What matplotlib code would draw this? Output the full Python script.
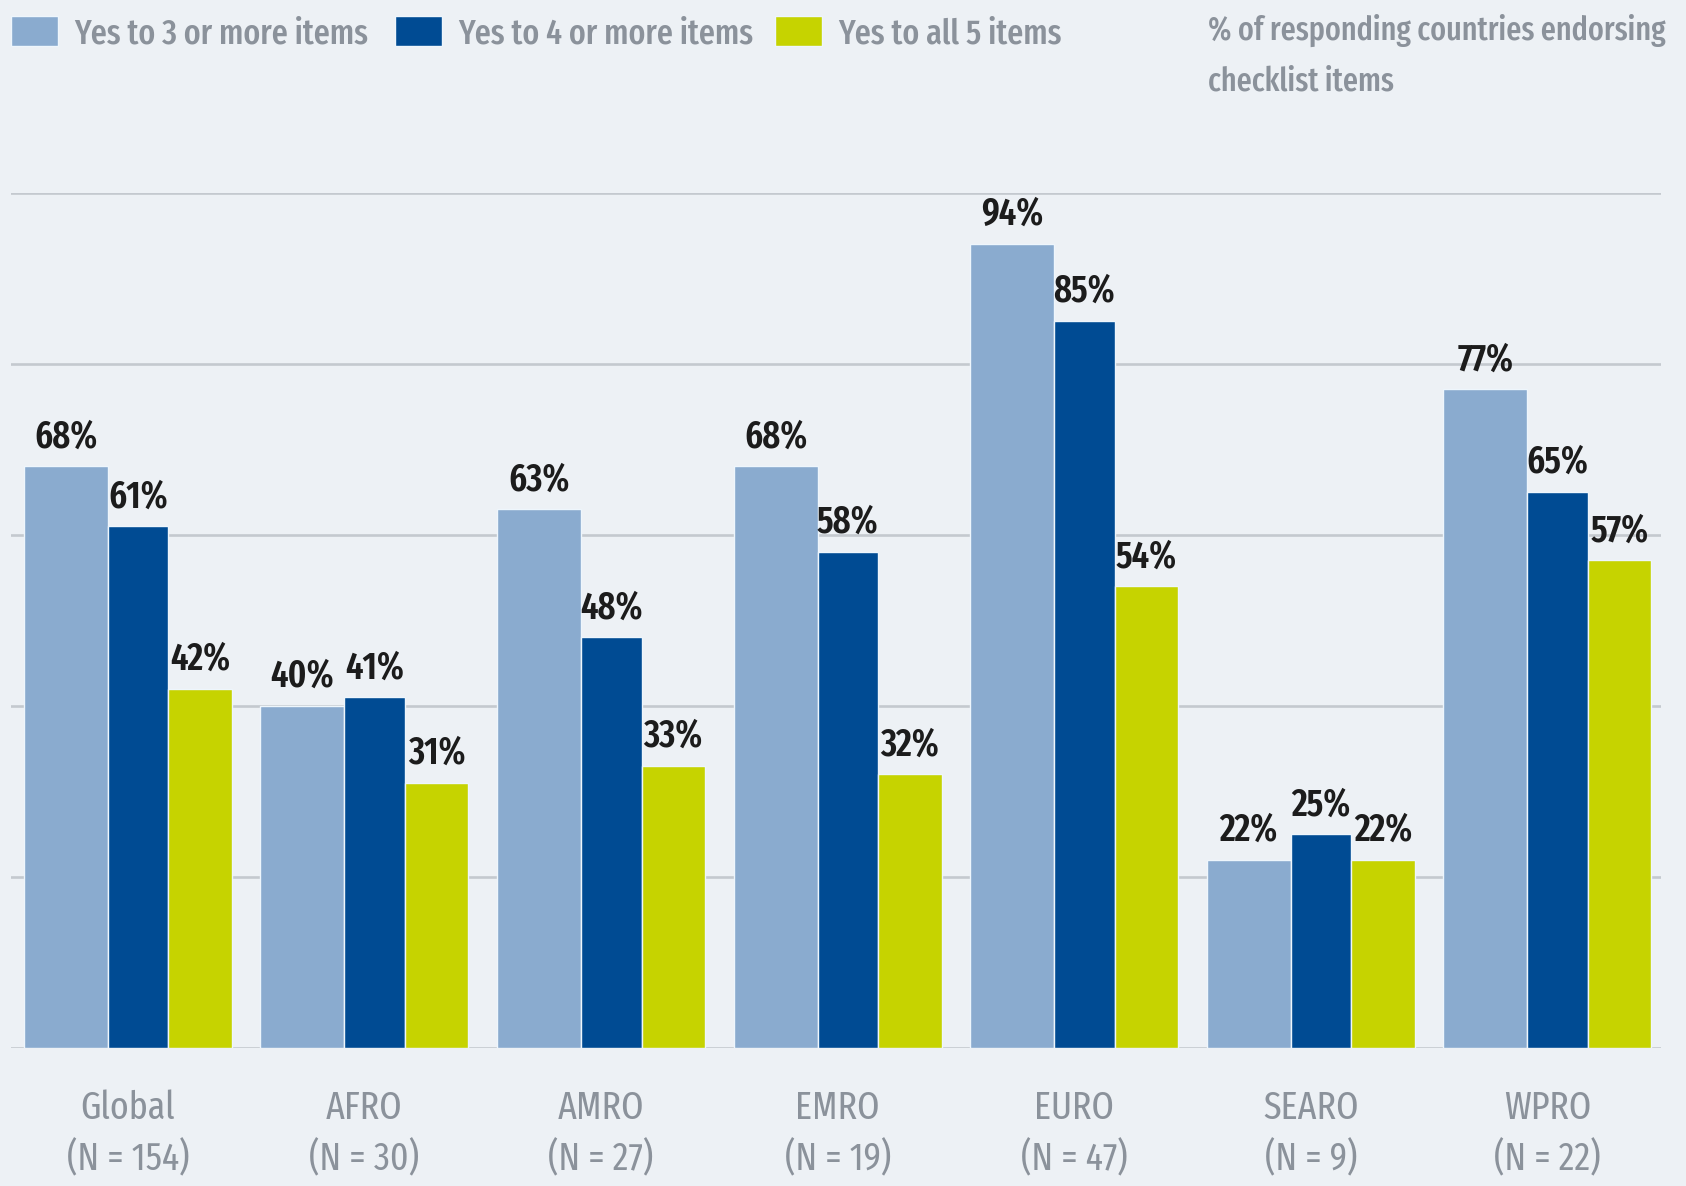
import matplotlib.pyplot as plt
import numpy as np

# data
regions = ['Global', 'AFRO', 'AMRO', 'EMRO', 'EURO', 'SEARO', 'WPRO']
n_counts = [154, 30, 27, 19, 47, 9, 22]
yes_3_more = [68, 40, 63, 68, 94, 22, 77]
yes_4_more = [61, 41, 48, 58, 85, 25, 65]
yes_all_5 = [42, 31, 33, 32, 54, 22, 57]
series_names = ['Yes to 3 or more items', 'Yes to 4 or more items', 'Yes to all 5 items']
title_text = '% of responding countries endorsing\nchecklist items'

BG = '#edf1f5'
GRID = '#c4c9cf'
GRAY_TXT = '#8b929b'
COLORS = ['#8aabcf', '#004b93', '#c6d300']
WIDTHS = [0.355, 0.256, 0.268]
GROUP_LEFT = -0.44
FONT = ['Fira Sans Extra Condensed', 'DejaVu Sans']

W, H = 1686, 1186
fig = plt.figure(figsize=(W / 100, H / 100), dpi=100, facecolor=BG)
ax = fig.add_axes([11 / W, 138 / H, (1661 - 11) / W, (1048 - 192.5) / H])
ax.set_facecolor(BG)

x = np.arange(len(regions))
ax.set_xlim(-0.494, 6.48)
ax.set_ylim(0, 100)

for yv in range(0, 101, 20):
    ax.axhline(yv, color=GRID, lw=1.9, zorder=1)

bars = []
left = x + GROUP_LEFT
for vals, col, w in zip([yes_3_more, yes_4_more, yes_all_5], COLORS, WIDTHS):
    b = ax.bar(left, vals, width=w, align='edge', color=col,
               edgecolor='#eef6fc', linewidth=1.0, zorder=3)
    bars.append(b)
    for rect, v in zip(b, vals):
        ax.annotate('%d%%' % v, (rect.get_x() + rect.get_width() / 2, v),
                    xytext=(0, 13.5), textcoords='offset points',
                    ha='center', va='baseline', fontsize=27,
                    fontweight='semibold', family=FONT, color='#1c1c1c',
                    zorder=4)
    left = left + w

ax.set_xticks(x)
ax.set_xticklabels(['%s\n(N = %d)' % (r, n) for r, n in zip(regions, n_counts)],
                   fontsize=28, family=FONT, color=GRAY_TXT, linespacing=1.42)
ax.tick_params(axis='x', length=0, pad=30)
ax.set_yticks([])
for s in ax.spines.values():
    s.set_visible(False)

# legend entries placed one by one
leg_x = [1, 385, 765]
for b, name, lx in zip(bars, series_names, leg_x):
    fig.legend(handles=[b], labels=[name], loc='upper left',
               bbox_to_anchor=(lx / W, 1 - 6 / H), frameon=False,
               handlelength=1.35, handleheight=0.95, handletextpad=0.45,
               borderaxespad=0, borderpad=0.3,
               prop={'family': FONT, 'size': 25, 'weight': 'medium'},
               labelcolor=GRAY_TXT)

fig.text(1208 / W, 1 - 14 / H, title_text, ha='left', va='top',
         fontsize=23.5, family=FONT, color=GRAY_TXT, fontweight='medium',
         linespacing=1.75)

fig.savefig('out.png', dpi=100, facecolor=BG)
